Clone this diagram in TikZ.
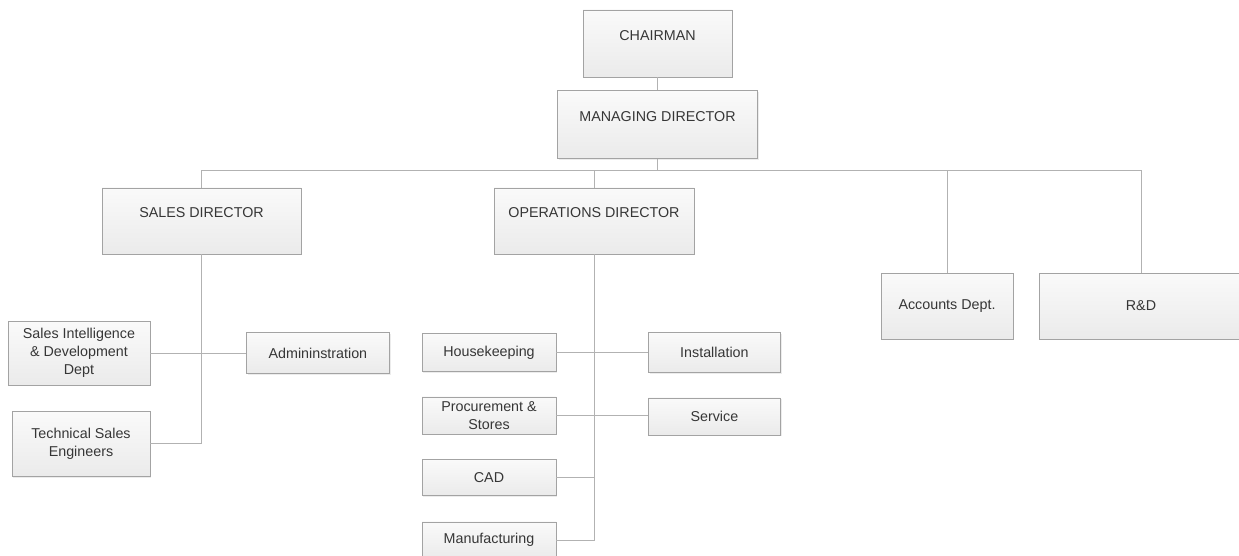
\documentclass[tikz,border=0pt]{standalone}
\usepackage{fontspec}
\setmainfont{Liberation Sans}
\usepackage{xcolor}
\usepackage{tikz}
\usetikzlibrary{positioning,shadows}

\definecolor{boxline}{HTML}{A3A3A3}
\definecolor{boxtext}{HTML}{363636}
\definecolor{wire}{HTML}{B2B2B2}

\begin{document}
\begin{tikzpicture}[
      x=1pt, y=-1pt,
      orgbox/.style={
         rectangle,
         draw=boxline,
         top color=black!2,
         bottom color=black!8,
         drop shadow={shadow xshift=1.2pt,shadow yshift=-1.2pt,opacity=0.15},
         % line width=0.8pt,
         text=boxtext,
         align=center,
         inner sep=2pt,
         font=\fontsize{14.3}{18}\selectfont},
      headbox/.style={orgbox, text depth=16pt},
      myline/.style={draw=wire, line width=0.9pt},
      node distance=25pt and 92pt
      ]
\useasboundingbox (0,0) rectangle (1239,556);

\node[headbox,minimum width=149pt,minimum height=67pt] (chair) at (657.5,43.5) {CHAIRMAN};

\node[headbox,minimum width=200pt,minimum height=68pt,below=13pt of chair] (md) {MANAGING DIRECTOR};

\node[headbox,minimum width=199pt,minimum height=66pt] (sales) at (201.5,221) {SALES DIRECTOR};

\node[headbox,minimum width=200pt,minimum height=66pt] (ops) at (594,221) {OPERATIONS DIRECTOR};

\node[orgbox,minimum width=132pt,minimum height=66pt] (acc) at (947,306) {Accounts Dept.};

\node[orgbox,minimum width=204pt,minimum height=66pt] (rnd) at (1141,306) {R\&D};

% sales side
\node[orgbox,minimum width=142pt,minimum height=64pt] (sid) at (79,353) {Sales Intelligence\\ \& Development\\ Dept};

\node[orgbox,minimum width=143pt,minimum height=41pt,right=96pt of sid] (adm) {Admininstration};

\node[orgbox,minimum width=138pt,minimum height=65pt,below=26pt of sid.south east,anchor=north east] (tse) {Technical Sales\\ Engineers};

% operations side
\node[orgbox,minimum width=134pt,minimum height=38pt] (hk) at (489,352.5) {Housekeeping};

\node[orgbox,minimum width=132pt,minimum height=40pt,right=of hk] (inst) {Installation};

\node[orgbox,minimum width=134pt,minimum height=37pt,below=of hk] (proc) {Procurement \&\\ Stores};

\node[orgbox,minimum width=132pt,minimum height=37pt,below=of inst] (serv) {Service};

\node[orgbox,minimum width=134pt,minimum height=36pt,below=of proc] (cad) {CAD};

\node[orgbox,minimum width=134pt,minimum height=37pt,below=26pt of cad] (mfg) {Manufacturing};

\foreach \i/\j in {% start node/end node
      chair/md,sid/adm,hk/inst}
       \draw[myline] (\i) -- (\j);

\draw[myline] (proc.east) -- (proc.east -| serv.west);
\draw[myline] (md.south) -- ++(0,12) coordinate (bus);
\draw[myline] (sales.north) |- (bus) -| (rnd.north);
\draw[myline] (ops.north) -- (ops.north |- bus);
\draw[myline] (acc.north) -- (acc.north |- bus);
\draw[myline] (sales.south) |- (tse.east);
\draw[myline] (ops.south) |- (mfg.east);
\draw[myline] (cad.east) -- (cad.east -| ops.south);

\end{tikzpicture}
\end{document}
